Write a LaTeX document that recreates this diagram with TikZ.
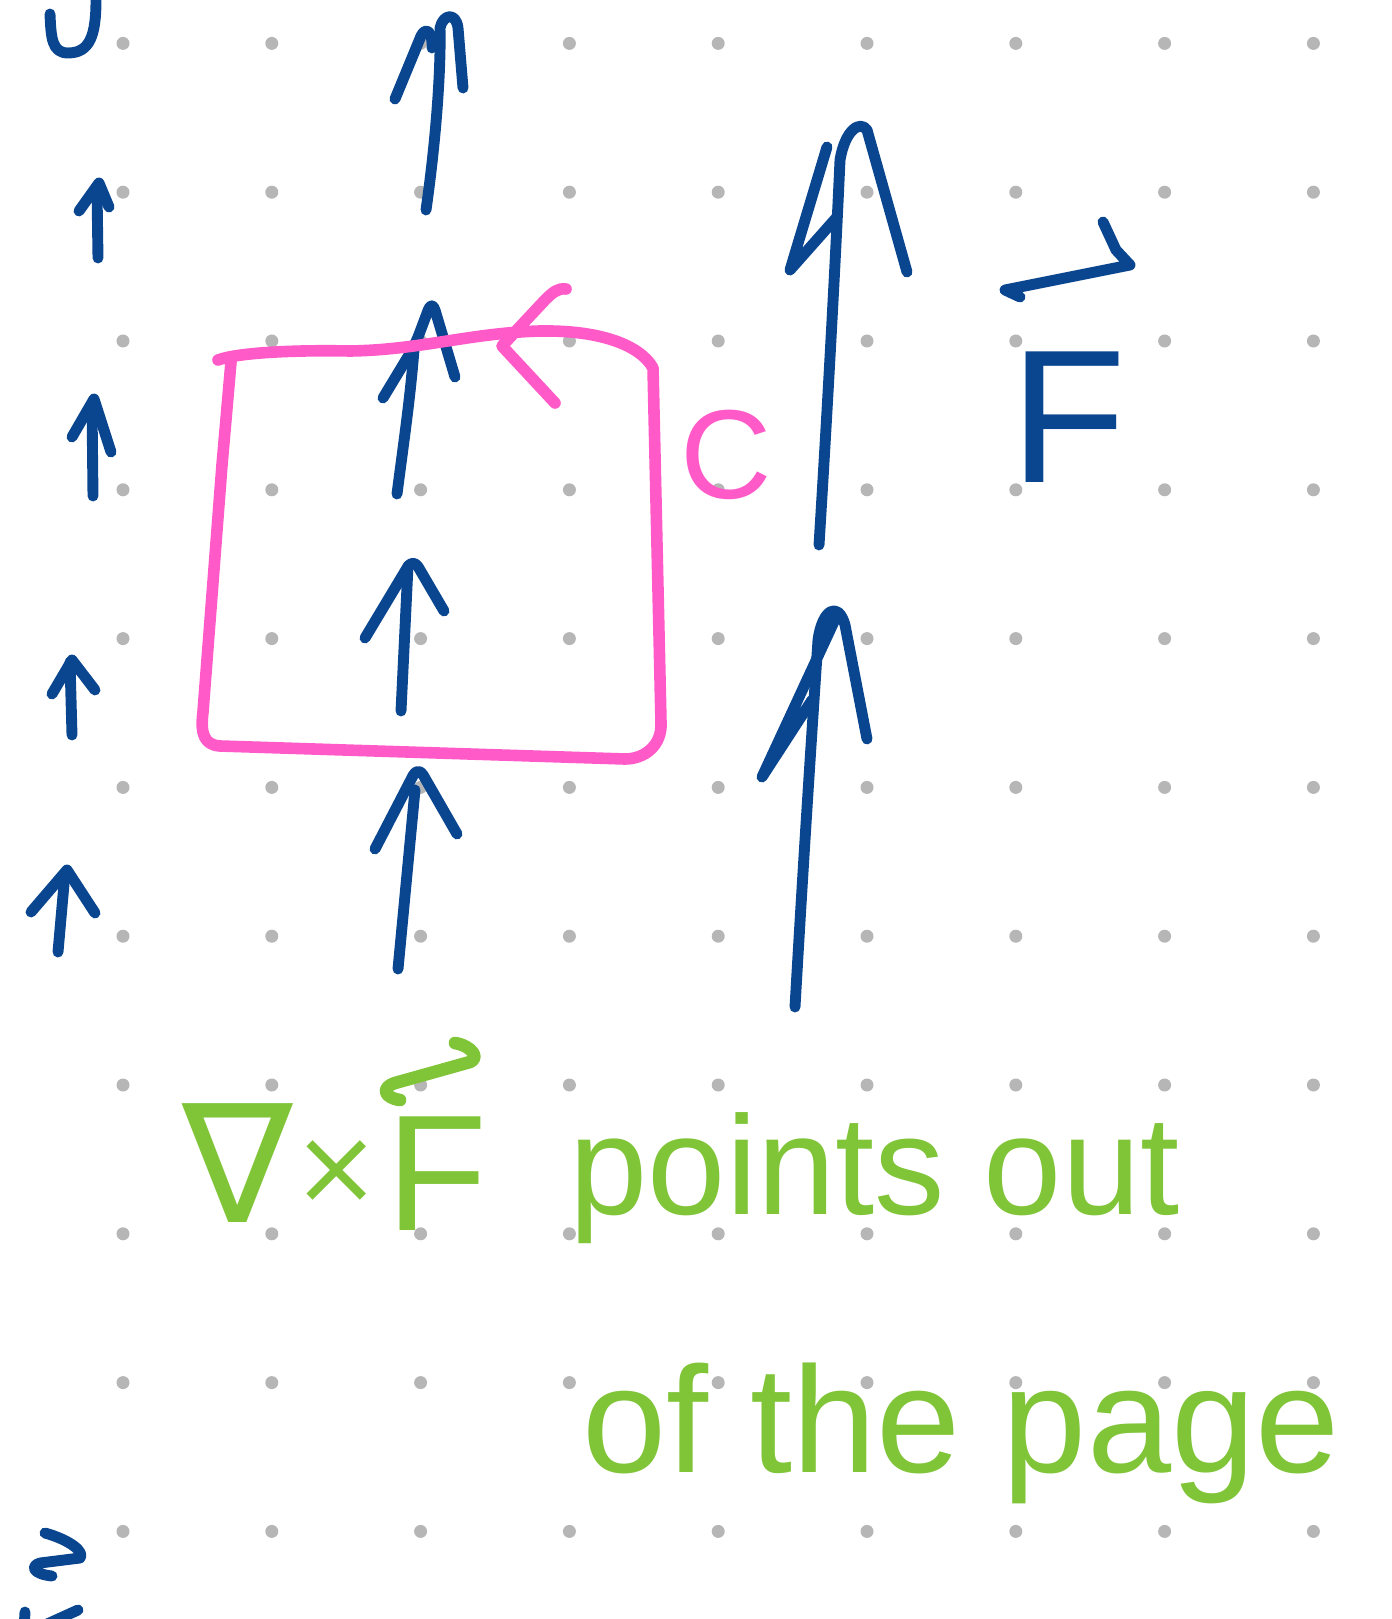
\documentclass[tikz,border=0pt]{standalone}
\usepackage{fontspec}
\setmainfont{Liberation Sans}
\newfontfamily\curlfont{DejaVu Sans}
\usepackage{tikz}
\usetikzlibrary{arrows.meta, positioning, calc}
\definecolor{inkblue}{RGB}{10,70,143}
\definecolor{inkpink}{RGB}{255,90,200}
\definecolor{inkgreen}{RGB}{128,196,56}
\definecolor{dotgray}{RGB}{182,182,182}

\begin{document}
\begin{tikzpicture}[x=0.01cm, y=-0.01cm,
        every node/.style={draw=none, inner sep=0pt},
        field/.style={draw=inkblue, line width=3.1pt, line cap=round, line join=round},
        loopline/.style={draw=inkpink, line width=3.3pt, line cap=round, line join=round},
        greenline/.style={draw=inkgreen, line width=3.6pt, line cap=round, line join=round},
        note/.style={text=inkgreen, anchor=base west}]
        \useasboundingbox (0,0) rectangle (1391,1619);
        \clip (0,0) rectangle (1391,1619);

        % 方眼の点
        \foreach \i in {0,...,8}
            \foreach \j in {0,...,10}
                \fill[dotgray] (123+148.8*\i, 43.4+148.8*\j) circle (0.065cm);

        % 端で切れた文字
        \draw[field] (50,14) .. controls (51,38) and (52,53) .. (68,53) .. controls (90,53) and (96,35) .. (96,0);
        \draw[field] (45,1533) .. controls (70,1540) and (85,1552) .. (80,1558) -- (40,1563) .. controls (30,1566) and (33,1574) .. (52,1576);
        \draw[field] (25,1612) -- (24,1630);
        \draw[field] (78,1610) -- (45,1625);

        % 左の小さい矢印
        \draw[field] (98,258) -- (97,190);
        \draw[field] (79,211) -- (99,183) -- (109,207);
        \draw[field] (93,496) -- (92,405);
        \draw[field] (72,437) -- (94,399) -- (111,452);
        \draw[field] (72,735) -- (70,662);
        \draw[field] (52,694) -- (72,660) -- (95,690);
        \draw[field] (58,952) -- (65,873);
        \draw[field] (31,912) -- (67,870) -- (95,913);

        % 中央の矢印
        \draw[field] (426,210) .. controls (436,140) and (441,70) .. (440,28) .. controls (443,14) and (456,12) .. (458,28) -- (463,88);
        \draw[field] (395,99) -- (421,36) .. controls (426,26) and (433,32) .. (432,48);
        \draw[field] (397,494) .. controls (404,440) and (410,400) .. (414,350);
        \draw[field, rounded corners=3pt] (383,398) -- (415,345) -- (432,300) -- (455,377);
        \draw[field] (401,711) -- (408,566);
        \draw[field, rounded corners=3pt] (365,638) -- (413,558) -- (444,611);
        \draw[field] (398,969) -- (415,790);
        \draw[field, rounded corners=3pt] (375,849) -- (418,766) -- (457,834);

        % 右の大きい矢印
        \draw[field] (819,545) .. controls (828,400) and (836,250) .. (840,160) .. controls (845,130) and (860,120) .. (867,130) -- (907,272);
        \draw[field] (837,217) -- (790,270) -- (827,147);
        \draw[field] (795,1007) .. controls (804,850) and (812,730) .. (818,640) .. controls (822,610) and (838,600) .. (845,625) -- (867,739);
        \draw[field] (812,700) -- (762,777) -- (838,613);

        % ベクトル場 F
        \node[text=inkblue, font=\fontsize{54}{54}\selectfont, anchor=base west] (F) at (1010,483) {F};
        \draw[field] (1020,297) -- (1005,290) -- (1130,265) -- (1116,250) -- (1103,222);

        % 閉曲線 C
        \draw[loopline] (218,360) .. controls (240,352) and (300,350) .. (350,351) .. controls (420,350) and (470,333) .. (540,331) .. controls (600,330) and (640,345) .. (653,368) -- (661,723) .. controls (662,745) and (645,759) .. (625,759) -- (220,746) .. controls (205,745) and (200,735) .. (203,712) -- (222,465) -- (231,362);
        \draw[loopline] (566,289) .. controls (558,288) and (553,292) .. (545,300) -- (502,346) -- (555,403);
        \node[text=inkpink, font=\fontsize{36}{36}\selectfont] (C) at (726,455) {C};

        % 回転の説明
        \node[note, font=\curlfont\fontsize{47}{47}\selectfont] (nabla) at (182,1222) {∇};
        \node[note, anchor=center, font=\curlfont\fontsize{30}{30}\selectfont] (cross) at (337,1172) {×};
        \node[note, font=\fontsize{47}{47}\selectfont] (Fcurl) at (386,1230) {F};
        \draw[greenline] (400,1100) .. controls (385,1098) and (380,1088) .. (395,1083) -- (470,1062) .. controls (480,1058) and (472,1046) .. (455,1043);
        \node[note, font=\fontsize{40}{40}\selectfont] (line1) at (569,1214) {points out};
        \node[note, font=\fontsize{43}{43}\selectfont] (line2) at (582,1472) {of the page};
    \end{tikzpicture}
\end{document}
